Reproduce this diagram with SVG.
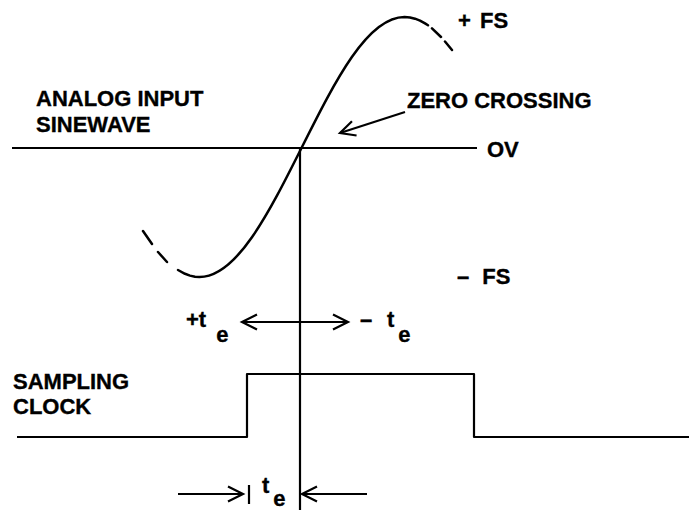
<svg xmlns="http://www.w3.org/2000/svg" width="689" height="510" viewBox="0 0 689 510">
<style>
.ln{fill:none;stroke:#000;stroke-width:2.2;stroke-linecap:butt;stroke-linejoin:round}
.cv{fill:none;stroke:#000;stroke-width:2.5;stroke-linecap:round;stroke-linejoin:round}
.t{font-family:"Liberation Sans",Arial,sans-serif;font-weight:bold;font-size:22px;fill:#000;stroke:#000;stroke-width:0.35}
.s{font-family:"Liberation Sans",Arial,sans-serif;font-weight:bold;font-size:22px;fill:#000;stroke:#000;stroke-width:0.35}
</style>
<defs>
<marker id="ah" markerUnits="userSpaceOnUse" markerWidth="30" markerHeight="30" refX="0" refY="0" viewBox="-20 -10 30 20" orient="auto-start-reverse" overflow="visible">
<path d="M -15 -7.5 L 0 0 L -15 7.5" fill="none" stroke="#000" stroke-width="2.2" stroke-linejoin="miter"/>
</marker>
</defs>
<rect width="689" height="510" fill="#fff"/>
<g id="axis">
<path class="ln" d="M 12 148 H 477"/>
</g>
<g id="sinewave">
<path class="cv" d="M 178 270 L 185 273.8 L 190 275.6 L 195 276.7 L 199.5 277 C 236.6 277 268.57 213.6 302 147 C 335.43 80.4 367.4 17 404.5 17 L 410 17.5 L 415 18.7 L 420 20.6 L 425 23.4 L 428 25.3"/>
<path class="cv" d="M 143 231 L 152 244 M 158 252 L 167 262 M 432 28.4 L 441 37 M 445 41.5 L 452 50"/>
</g>
<g id="clock">
<path class="ln" d="M 17 437 H 247 V 374 H 474 V 437 H 689"/>
</g>
<g id="connectors">
<path class="ln" d="M 300 148 V 510"/>
<path class="ln" d="M 405 112 L 340 133" marker-end="url(#ah)"/>
<path class="ln" d="M 242 322 H 348" marker-start="url(#ah)" marker-end="url(#ah)"/>
<path class="ln" d="M 178 494 H 243" marker-end="url(#ah)"/>
<path class="ln" d="M 367 494 H 302" marker-end="url(#ah)"/>
<path class="ln" d="M 249 485 V 504"/>
</g>
<g id="labels">
<text class="t" x="36" y="106">ANALOG INPUT</text>
<text class="t" x="36" y="132">SINEWAVE</text>
<text class="t" x="407" y="108">ZERO CROSSING</text>
<text class="t" x="458" y="28" word-spacing="3">+ FS</text>
<text class="t" x="487" y="157">OV</text>
<text class="t" x="457" y="284" word-spacing="7">– FS</text>
<text class="t" x="13" y="389">SAMPLING</text>
<text class="t" x="13" y="414">CLOCK</text>
<text class="s" x="186" y="327">+t<tspan dx="10" y="342">e</tspan></text>
<text class="s" x="360" y="327">– <tspan x="387">t</tspan><tspan dx="4" y="342">e</tspan></text>
<text class="s" x="262" y="493">t<tspan dx="4" y="506">e</tspan></text>
</g>
</svg>
